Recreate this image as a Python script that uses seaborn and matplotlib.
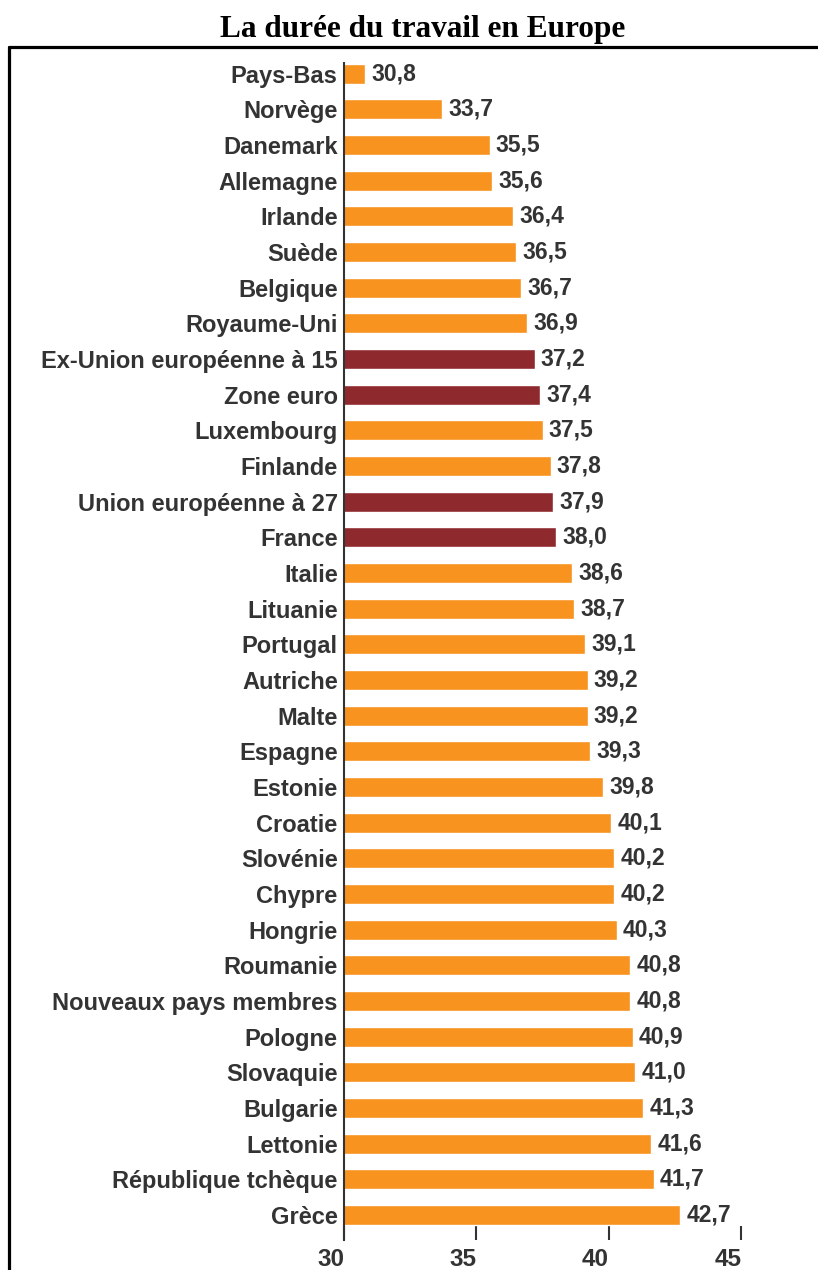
import matplotlib
matplotlib.use("Agg")
import matplotlib.pyplot as plt
from matplotlib.lines import Line2D
import seaborn as sns
import pandas as pd

# Durée hebdomadaire habituelle du travail (heures), du plus court au plus long
pays = [
    "Pays-Bas", "Norvège", "Danemark", "Allemagne", "Irlande", "Suède",
    "Belgique", "Royaume-Uni", "Ex-Union européenne à 15", "Zone euro",
    "Luxembourg", "Finlande", "Union européenne à 27", "France", "Italie",
    "Lituanie", "Portugal", "Autriche", "Malte", "Espagne", "Estonie",
    "Croatie", "Slovénie", "Chypre", "Hongrie", "Roumanie",
    "Nouveaux pays membres", "Pologne", "Slovaquie", "Bulgarie", "Lettonie",
    "République tchèque", "Grèce",
]
heures = [
    30.8, 33.7, 35.5, 35.6, 36.4, 36.5,
    36.7, 36.9, 37.2, 37.4,
    37.5, 37.8, 37.9, 38.0, 38.6,
    38.7, 39.1, 39.2, 39.2, 39.3, 39.8,
    40.1, 40.2, 40.2, 40.3, 40.8,
    40.8, 40.9, 41.0, 41.3, 41.6,
    41.7, 42.7,
]
# agrégats et France mis en évidence
mis_en_avant = {"Ex-Union européenne à 15", "Zone euro",
                "Union européenne à 27", "France"}
groupe = ["rouge" if p in mis_en_avant else "orange" for p in pays]
graduations = [30, 35, 40, 45]

ORANGE = "#F7931E"
ROUGE = "#8E2A2E"
GRIS = "#333333"

df = pd.DataFrame({"pays": pays, "heures": heures, "groupe": groupe})

sns.set_theme(style="white")
plt.rcParams["font.family"] = ["Liberation Sans", "DejaVu Sans"]

fig = plt.figure(figsize=(8.18, 12.70), dpi=100)
ax = fig.add_axes([0.4205, 0.0236, 0.5795, 0.9268])

sns.barplot(data=df, y="pays", x="heures", hue="groupe",
            palette={"orange": ORANGE, "rouge": ROUGE},
            dodge=False, width=0.56, orient="h", legend=False,
            saturation=1, ax=ax)

for i, v in enumerate(heures):
    ax.annotate(f"{v:.1f}".replace(".", ","), xy=(v, i), xytext=(4.5, 0),
                textcoords="offset points", va="center", ha="left",
                fontsize=16.5, fontweight="bold", color=GRIS)

ax.set_xlim(30, 47.9)
ax.set_ylim(len(pays) - 1 + 0.7, -0.3)
ax.set_xticks(graduations)
ax.set_xticklabels([str(g) for g in graduations])
ax.set_xlabel("")
ax.set_ylabel("")

ax.tick_params(axis="x", bottom=True, direction="in", length=10, width=1.5,
               color=GRIS, pad=6, labelsize=17.5, labelcolor=GRIS)
ax.tick_params(axis="y", left=False, length=0, pad=4.5, labelsize=17,
               labelcolor=GRIS)
for lbl in ax.get_xticklabels():
    lbl.set_fontweight("bold")
    lbl.set_ha("right")
for lbl in ax.get_yticklabels():
    lbl.set_fontweight("bold")

for side in ("top", "right", "bottom"):
    ax.spines[side].set_visible(False)
ax.spines["left"].set_color(GRIS)
ax.spines["left"].set_linewidth(1.5)

# cadre
fig.add_artist(Line2D([0.011, 1.0], [0.963, 0.963], color="black",
                      lw=2.3, transform=fig.transFigure))
fig.add_artist(Line2D([0.011, 0.011], [0.0, 0.963], color="black",
                      lw=2.3, transform=fig.transFigure))

fig.text(0.5165, 0.977, "La durée du travail en Europe", ha="center",
         va="center", fontsize=22.5, fontweight="bold",
         family=["Liberation Serif", "DejaVu Serif"], color="black")

fig.savefig("out.png", dpi=100)
